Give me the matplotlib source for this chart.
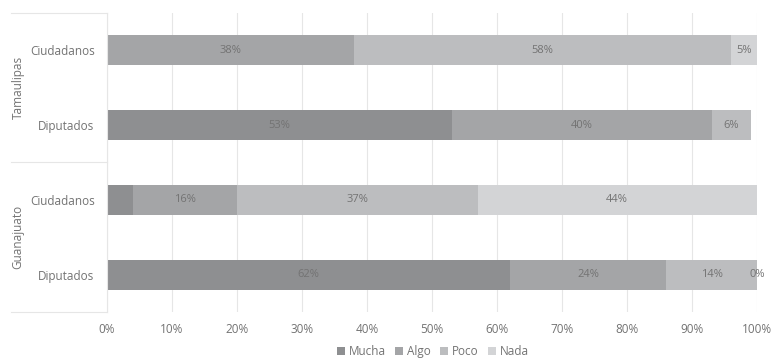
import matplotlib.pyplot as plt
import numpy as np

# Data
rows = ['Diputados', 'Ciudadanos', 'Diputados', 'Ciudadanos']  # bottom to top
groups = ['Guanajuato', 'Tamaulipas']
series = ['Mucha', 'Algo', 'Poco', 'Nada']
mucha = [62, 4, 53, 0]
algo = [24, 16, 40, 38]
poco = [14, 37, 6, 58]
nada = [0, 44, 0, 5]
# which labels are printed on the bars (None = no label)
labels_mucha = ['62%', None, '53%', None]
labels_algo = ['24%', '16%', '40%', '38%']
labels_poco = ['14%', '37%', '6%', '58%']
labels_nada = ['0%', '44%', None, '5%']

colors = ['#8e8f91', '#a4a5a7', '#bcbdbf', '#d3d4d6']
txt = '#737373'
plt.rcParams['font.family'] = ['Open Sans', 'DejaVu Sans']

fig = plt.figure(figsize=(7.73, 3.6), dpi=100)
ax = fig.add_axes([107/773, 1-312/360, 650/773, 299/360])

y = np.arange(len(rows))
left = np.zeros(len(rows))
vals = [mucha, algo, poco, nada]
labs = [labels_mucha, labels_algo, labels_poco, labels_nada]
for v, lab, c, name in zip(vals, labs, colors, series):
    v = np.array(v, dtype=float)
    w = np.minimum(v, 100 - left)
    ax.barh(y, w, left=left, height=0.4, color=c, label=name, zorder=2)
    for i in range(len(rows)):
        if lab[i] is not None:
            cx = left[i] + w[i]/2
            if w[i] == 0:
                cx = 100
            ax.text(cx, y[i], lab[i], ha='center', va='center', fontsize=8, color=txt, zorder=3)
    left = left + w

ax.set_xlim(0, 100)
ax.set_ylim(-0.5, 3.5)
ax.set_xticks(np.arange(0, 101, 10))
ax.set_xticklabels([f'{t}%' for t in range(0, 101, 10)], fontsize=8.5, color=txt)
ax.set_yticks(y)
ax.set_yticklabels(rows, fontsize=8.5, color=txt)
ax.tick_params(axis='both', length=0)
ax.tick_params(axis='x', pad=8)
ax.tick_params(axis='y', pad=9)
ax.grid(axis='x', color='#e6e6e6', linewidth=0.8, zorder=0)
for s in ['top', 'right', 'bottom']:
    ax.spines[s].set_visible(False)
ax.spines['left'].set_color('#e6e6e6')

# group separators and labels on the left
for yy in [13, 162, 312]:
    fig.add_artist(plt.Line2D([11/773, 107/773], [1-yy/360, 1-yy/360], color='#e6e6e6', linewidth=0.8))
fig.text(18/773, 1-87/360, groups[1], rotation=90, ha='center', va='center', fontsize=8.5, color=txt)
fig.text(18/773, 1-237/360, groups[0], rotation=90, ha='center', va='center', fontsize=8.5, color=txt)

fig.legend(loc='lower center', bbox_to_anchor=(0.56, -0.025), ncol=4, frameon=False,
           fontsize=8.5, labelcolor=txt, handlelength=0.7, handleheight=0.7,
           handletextpad=0.3, columnspacing=0.8)

fig.savefig('out.png', dpi=100)
